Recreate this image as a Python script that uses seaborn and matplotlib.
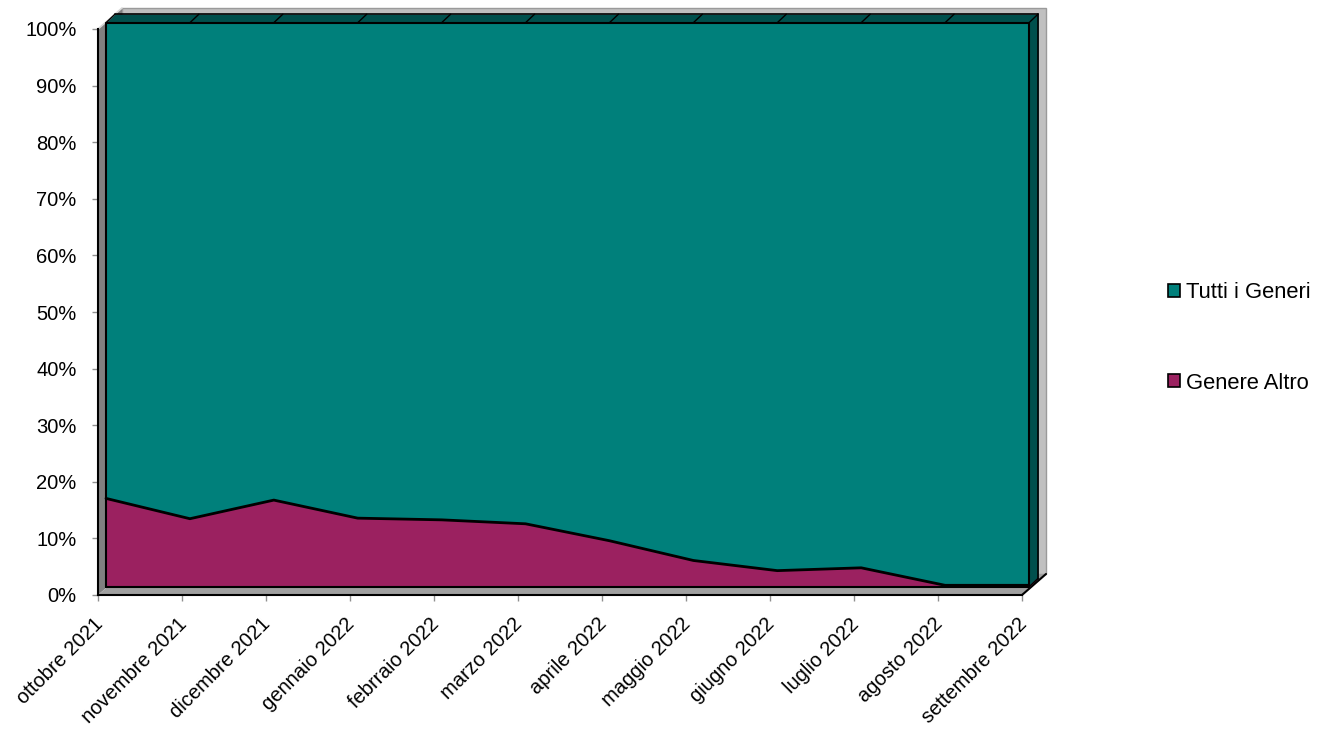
import numpy as np
import pandas as pd
import seaborn as sns
import matplotlib
matplotlib.use("Agg")
import matplotlib.pyplot as plt
from matplotlib.patches import Polygon, Patch
from matplotlib.lines import Line2D
from matplotlib.transforms import IdentityTransform, ScaledTranslation

# ---------------- data ----------------
months = ["ottobre 2021", "novembre 2021", "dicembre 2021", "gennaio 2022",
          "febrraio 2022", "marzo 2022", "aprile 2022", "maggio 2022",
          "giugno 2022", "luglio 2022", "agosto 2022", "settembre 2022"]
genere_altro = [15.7, 12.1, 15.4, 12.2, 11.9, 11.2, 8.2, 4.7, 2.9, 3.4, 0.3, 0.3]
tutti_generi = [100 - v for v in genere_altro]
series_labels = ["Genere Altro", "Tutti i Generi"]
y_ticks = [0, 10, 20, 30, 40, 50, 60, 70, 80, 90, 100]
y_tick_labels = [f"{v}%" for v in y_ticks]

# ---------------- style ----------------
sns.set_style("white")
FONT = ["Liberation Sans", "DejaVu Sans"]
plt.rcParams["font.family"] = FONT
plt.rcParams["text.color"] = "black"

TEAL = "#00807B"
TEAL_DARK = "#00504D"
PLUM = "#9B2160"
PLUM_DARK = "#5E1439"

W, H = 1323, 733
fig = plt.figure(figsize=(W / 100, H / 100), dpi=100)

# axis plane (ticks, walls)
ax = fig.add_axes([98 / W, (H - 595) / H, (1022 - 98) / W, (595 - 29) / H])
ax.set_xlim(0, len(months) - 1)
ax.set_ylim(0, 100)
ax.patch.set_alpha(0)
for s in ["top", "right"]:
    ax.spines[s].set_visible(False)
for s in ["left", "bottom"]:
    ax.spines[s].set_color("black")
    ax.spines[s].set_linewidth(1.5)
    ax.spines[s].set_zorder(5)

ax.set_xticks(range(len(months)))
ax.set_xticklabels(months, rotation=45, ha="right", va="top", rotation_mode="anchor")
ax.set_yticks(y_ticks)
ax.set_yticklabels(y_tick_labels)
ax.tick_params(axis="both", which="both", length=4.5, width=1, color="#909090",
               labelsize=14.5, labelcolor="black", direction="out",
               bottom=True, left=True)
ax.tick_params(axis="y", pad=11)
ax.tick_params(axis="x", pad=9.5)
for lab in ax.get_xticklabels():
    lab.set_transform(lab.get_transform() + ScaledTranslation(-5 / 100, 0, fig.dpi_scale_trans))

# walls: depth offset in pixels
WD = np.array([24.0, 21.0])
p00 = ax.transData.transform((0, 0))
p01 = ax.transData.transform((0, 100))
p10 = ax.transData.transform((len(months) - 1, 0))
p11 = ax.transData.transform((len(months) - 1, 100))

back = Polygon([p00 + WD, p10 + WD, p11 + WD, p01 + WD], closed=True,
               facecolor="#C0C0C0", edgecolor="#9A9A9A", lw=1,
               transform=IdentityTransform(), clip_on=False, zorder=1)
left_wall = Polygon([p00, p01, p01 + WD, p00 + WD], closed=True,
                    facecolor="#808080", edgecolor="none",
                    transform=IdentityTransform(), clip_on=False, zorder=2)
floor = Polygon([p00, p10, p10 + WD, p00 + WD], closed=True,
                facecolor="#A0A0A0", edgecolor="none",
                transform=IdentityTransform(), clip_on=False, zorder=2)
for p in (back, left_wall, floor):
    ax.add_patch(p)
ax.add_line(Line2D([p01[0], p01[0] + WD[0]], [p01[1], p01[1] + WD[1]],
                   color="#D8D8D8", lw=1.2, transform=IdentityTransform(),
                   clip_on=False, zorder=3))
ax.add_line(Line2D([p10[0], p10[0] + WD[0]], [p10[1], p10[1] + WD[1]],
                   color="black", lw=1.5, transform=IdentityTransform(),
                   clip_on=False, zorder=3))

# series front face axes
ax2 = fig.add_axes([106 / W, (H - 587) / H, (1029 - 106) / W, (587 - 22.7) / H])
ax2.set_xlim(0, len(months) - 1)
ax2.set_ylim(0, 100)
ax2.patch.set_alpha(0)
ax2.axis("off")

x = np.arange(len(months))
SD = np.array([9.0, 8.5])  # series depth (px)

def shifted(dx, dy):
    return ax2.transData + ScaledTranslation(dx / 100, dy / 100, fig.dpi_scale_trans)

# extrusion (side faces)
for f in np.linspace(1, 0.02, 24):
    tr = shifted(SD[0] * f, SD[1] * f)
    ax2.stackplot(x, genere_altro, tutti_generi, colors=[PLUM_DARK, TEAL_DARK],
                  lw=0, transform=tr, clip_on=False, antialiased=False)

# back outline and depth edges
trb = shifted(*SD)
ax2.plot([0, len(months) - 1], [100, 100], color="black", lw=1.2, transform=trb, clip_on=False)
ax2.plot([len(months) - 1, len(months) - 1], [0, 100], color="black", lw=1.2, transform=trb, clip_on=False)
for i in x:
    for yv in ([100] if i < len(months) - 1 else [100, 0]):
        q = ax2.transData.transform((i, yv))
        ax2.add_line(Line2D([q[0], q[0] + SD[0]], [q[1], q[1] + SD[1]], color="black",
                            lw=1.0, transform=IdentityTransform(), clip_on=False))

# front face
polys = ax2.stackplot(x, genere_altro, tutti_generi, colors=[PLUM, TEAL],
                      labels=series_labels, lw=0, clip_on=False)
df = pd.DataFrame({"x": x, "Genere Altro": genere_altro})
sns.lineplot(data=df, x="x", y="Genere Altro", ax=ax2, color="black", lw=2,
             clip_on=False, legend=False)
ax2.plot([0, len(months) - 1, len(months) - 1, 0, 0], [0, 0, 100, 100, 0],
         color="black", lw=1.5, clip_on=False)

# legend
handles = [Patch(facecolor=TEAL, edgecolor="black", lw=1.2, label="Tutti i Generi"),
           Patch(facecolor=PLUM, edgecolor="black", lw=1.2, label="Genere Altro")]
leg = fig.legend(handles=handles, loc="center left", bbox_to_anchor=(1168 / W, 1 - 338 / H),
                 frameon=False, fontsize=15.8, handlelength=0.55, handleheight=0.55,
                 handletextpad=0.28, labelspacing=3.15, borderpad=0, borderaxespad=0)
for t in leg.get_texts():
    t.set_color("black")

fig.savefig("out.png", dpi=100)
